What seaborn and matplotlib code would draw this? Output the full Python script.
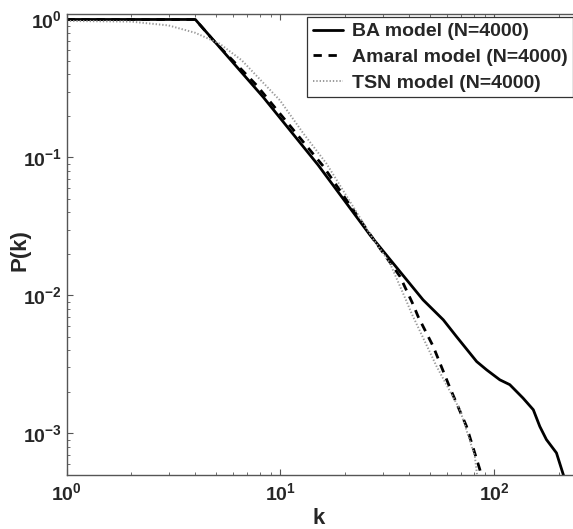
import matplotlib
matplotlib.use("Agg")
import matplotlib.pyplot as plt
import matplotlib.ticker as mticker
import seaborn as sns
import numpy as np
import pandas as pd

# ---- data ----
ba_k = [1, 2, 3, 4, 8.3, 15.0, 26.2, 46.4, 57.7, 66.5, 82.6, 92.0, 106, 118,
        136, 152, 163, 175, 195, 210, 213]
ba_p = [1.0, 1.0, 1.0, 1.0, 0.274, 0.088, 0.0274, 0.00927, 0.00664, 0.00502,
        0.00331, 0.00288, 0.00244, 0.00225, 0.00180, 0.00148, 0.00112,
        0.00090, 0.00072, 0.00050, 0.00046]

am_k = [1, 2, 3, 4, 4.86, 7.74, 15.85, 26.7, 36.2, 41.8, 44.0, 51.8, 62.0,
        74.1, 85.5, 87.5]
am_p = [1.0, 1.0, 1.0, 1.0, 0.705, 0.333, 0.0863, 0.0266, 0.0137, 0.0085,
        0.00701, 0.00425, 0.00213, 0.00112, 0.000545, 0.00046]

tsn_k = [1, 2, 3, 4, 5.2, 6.6, 9.95, 12.8, 16.4, 26.7, 32.5, 38.9, 41.0,
         53.7, 69.0, 81.0, 83.5]
tsn_p = [0.975, 0.965, 0.905, 0.80, 0.667, 0.505, 0.259, 0.149, 0.0903,
         0.0266, 0.0171, 0.0090, 0.0074, 0.00305, 0.00148, 0.00068, 0.00046]

labels = ["BA model (N=4000)", "Amaral model (N=4000)", "TSN model (N=4000)"]

sns.set_style("ticks")
plt.rcParams["font.family"] = ["Liberation Sans", "DejaVu Sans"]
plt.rcParams["font.weight"] = "bold"
plt.rcParams["mathtext.fontset"] = "custom"
plt.rcParams["mathtext.rm"] = "Liberation Sans:bold"
plt.rcParams["mathtext.bf"] = "Liberation Sans:bold"
plt.rcParams["mathtext.it"] = "Liberation Sans:bold:italic"
plt.rcParams["mathtext.default"] = "rm"

W, H = 573, 529
fig = plt.figure(figsize=(W / 100, H / 100), dpi=100)
ax_l, ax_r, ax_t, ax_b = 66.5, 573.0, 14.3, 475.0
ax = fig.add_axes([ax_l / W, 1 - ax_b / H, (ax_r - ax_l) / W, (ax_b - ax_t) / H])

df_ba = pd.DataFrame({"k": ba_k, "P": ba_p})
df_am = pd.DataFrame({"k": am_k, "P": am_p})
df_tsn = pd.DataFrame({"k": tsn_k, "P": tsn_p})

sns.lineplot(data=df_ba, x="k", y="P", ax=ax, color="black", lw=2.0,
             estimator=None, sort=False, label=labels[0])
sns.lineplot(data=df_am, x="k", y="P", ax=ax, color="black", lw=2.0,
             estimator=None, sort=False, label=labels[1])
ax.lines[-1].set_linestyle((0, (3.0, 2.4)))
sns.lineplot(data=df_tsn, x="k", y="P", ax=ax, color="#9a9a9a", lw=1.4,
             estimator=None, sort=False, label=labels[2])
ax.lines[-1].set_linestyle((0, (0.7, 1.0)))

ax.set_xscale("log")
ax.set_yscale("log")
ax.set_xlim(1, 233)
ax.set_ylim(4.98e-4, 1.09)

ax.xaxis.set_major_locator(mticker.LogLocator(base=10, numticks=10))
ax.xaxis.set_minor_locator(mticker.LogLocator(base=10, subs=np.arange(2, 10), numticks=20))
ax.yaxis.set_major_locator(mticker.LogLocator(base=10, numticks=10))
ax.yaxis.set_minor_locator(mticker.LogLocator(base=10, subs=np.arange(2, 10), numticks=20))
ax.yaxis.set_minor_formatter(mticker.NullFormatter())
ax.xaxis.set_minor_formatter(mticker.NullFormatter())

spine_c = "#555555"
for s in ax.spines.values():
    s.set_color(spine_c)
    s.set_linewidth(1.0)
ax.spines["right"].set_visible(False)

ax.tick_params(which="both", direction="in", top=True, right=False, color=spine_c)
ax.tick_params(which="major", length=4, width=0.8, labelsize=14)
ax.tick_params(axis="x", which="major", pad=5)
ax.tick_params(axis="y", which="major", pad=3)
ax.tick_params(which="minor", length=2.5, width=0.6)

ax.set_xlabel("k", fontsize=16, fontweight="bold")
ax.set_ylabel("P(k)", fontsize=16, fontweight="bold")
ax.xaxis.label.set_va("center")
ax.yaxis.label.set_va("center")
ax.xaxis.set_label_coords((319 - ax_l) / (ax_r - ax_l), (ax_b - 518) / (ax_b - ax_t))
ax.yaxis.set_label_coords((20 - ax_l) / (ax_r - ax_l), (ax_b - 250) / (ax_b - ax_t))

leg = ax.legend(loc="upper left", bbox_to_anchor=(307.3 / W, 1 - 17.3 / H),
                bbox_transform=fig.transFigure, borderaxespad=0,
                fancybox=False, framealpha=1, edgecolor="#333333",
                prop={"family": "Liberation Sans", "weight": "bold", "size": 14},
                handlelength=1.55, handletextpad=0.45, labelspacing=0.42,
                borderpad=0.28)
leg.get_frame().set_linewidth(0.9)

fig.savefig("out.png", dpi=100)
